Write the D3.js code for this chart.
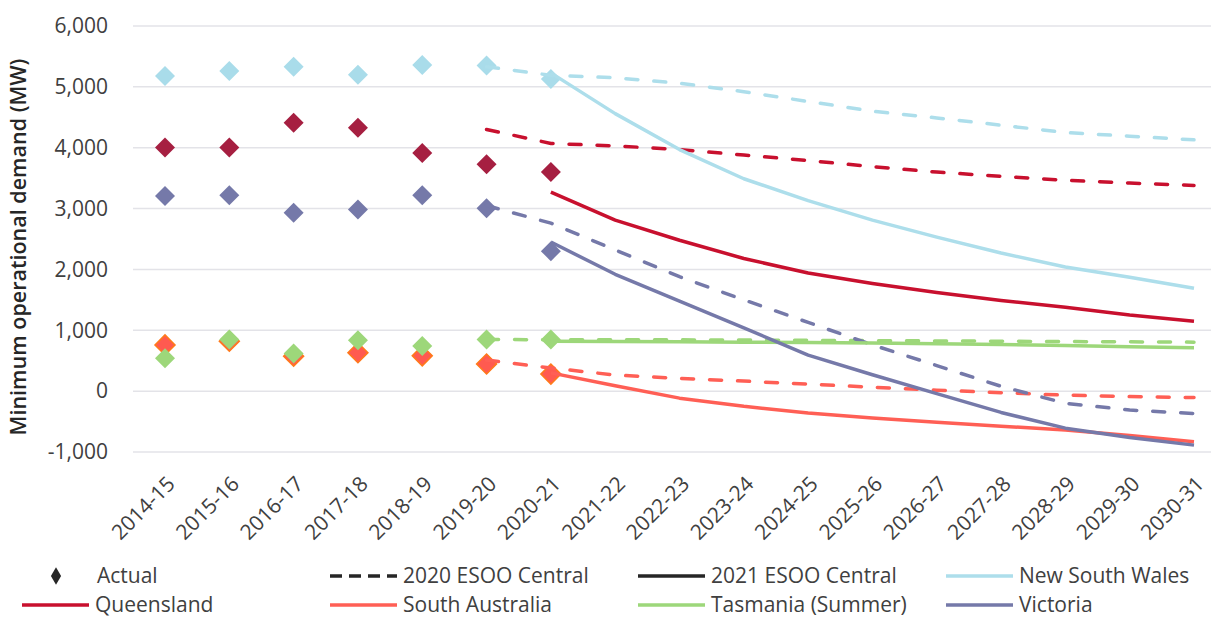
<!DOCTYPE html>
<html>
<head>
<meta charset="utf-8">
<script src="https://cdn.jsdelivr.net/npm/d3@7"></script>
<style>
  body { margin: 0; background: #fff; }
  svg { font-family: 'Open Sans', sans-serif; }
  .grid line { stroke: #e3e3e8; stroke-width: 1.5; }
  .tick-label { fill: #404040; font-size: 21px; }
  .legend text { fill: #404040; font-size: 21px; }
</style>
</head>
<body>
<div id="chart"></div>
<script>
var years = ['2014-15', '2015-16', '2016-17', '2017-18', '2018-19', '2019-20', '2020-21', '2021-22',
  '2022-23', '2023-24', '2024-25', '2025-26', '2026-27', '2027-28', '2028-29', '2029-30', '2030-31']
var yTicks = [-1000, 0, 1000, 2000, 3000, 4000, 5000, 6000]

// actuals: 2014-15 .. 2020-21
var actualNSW = [5180, 5260, 5330, 5200, 5360, 5350, 5130]
var actualQLD = [4005, 4005, 4410, 4330, 3915, 3730, 3600]
var actualSA = [760, 820, 575, 630, 580, 445, 280]
var actualTAS = [540, 848, 618, 838, 740, 848, 848]
var actualVIC = [3205, 3220, 2930, 2985, 3220, 3005, 2300]

// 2020 ESOO Central: 2019-20 .. 2030-31
var esoo20NSW = [5330, 5190, 5150, 5060, 4920, 4760, 4600, 4490, 4370, 4250, 4190, 4130]
var esoo20QLD = [4300, 4070, 4030, 3970, 3880, 3790, 3690, 3600, 3530, 3465, 3420, 3380]
var esoo20SA = [510, 380, 265, 210, 165, 115, 65, 16, -25, -66, -90, -105]
var esoo20TAS = [849, 845, 845, 843, 840, 835, 830, 825, 820, 815, 810, 805]
var esoo20VIC = [3050, 2760, 2320, 1880, 1500, 1130, 760, 420, 80, -200, -310, -367]

// 2021 ESOO Central: 2020-21 .. 2030-31
var esoo21NSW = [5230, 4560, 3970, 3490, 3130, 2810, 2530, 2270, 2040, 1870, 1690]
var esoo21QLD = [3270, 2810, 2480, 2180, 1940, 1770, 1620, 1490, 1380, 1250, 1150]
var esoo21SA = [300, 90, -115, -250, -360, -440, -510, -575, -640, -730, -833]
var esoo21TAS = [820, 815, 810, 805, 800, 790, 780, 765, 750, 730, 712]
var esoo21VIC = [2450, 1920, 1480, 1040, 591, 270, -40, -350, -608, -760, -887]

var regions = [
  { name: 'New South Wales', line: '#addeeb', dot: '#a9dcea', actual: actualNSW, e20: esoo20NSW, e21: esoo21NSW },
  { name: 'Queensland', line: '#c8102e', dot: '#a61f41', actual: actualQLD, e20: esoo20QLD, e21: esoo21QLD },
  { name: 'South Australia', line: '#ff5f55', dot: '#ff5a50', stroke: '#ff7a1a', actual: actualSA, e20: esoo20SA, e21: esoo21SA },
  { name: 'Tasmania (Summer)', line: '#9dd77a', dot: '#9dd77a', actual: actualTAS, e20: esoo20TAS, e21: esoo21TAS },
  { name: 'Victoria', line: '#7579a9', dot: '#7579a9', actual: actualVIC, e20: esoo20VIC, e21: esoo21VIC }
]

var width = 1211
var height = 619
var plotLeft = 133

var svg = d3.select('#chart').append('svg')
  .attr('width', width)
  .attr('height', height)

var x = d3.scalePoint()
  .domain(years)
  .range([165, 1194])
var y = d3.scaleLinear()
  .domain([-1000, 6000])
  .range([452, 26])

// gridlines
svg.append('g')
  .classed('grid', true)
  .selectAll('line')
  .data(yTicks)
  .enter().append('line')
  .attr('x1', plotLeft)
  .attr('x2', width)
  .attr('y1', function (d) { return y(d) })
  .attr('y2', function (d) { return y(d) })

// y axis labels
var fmt = d3.format(',')
svg.append('g')
  .selectAll('text')
  .data(yTicks)
  .enter().append('text')
  .classed('tick-label', true)
  .attr('x', 108)
  .attr('y', function (d) { return y(d) })
  .attr('dy', '0.35em')
  .attr('text-anchor', 'end')
  .text(function (d) { return d < 0 ? '-' + fmt(-d) : fmt(d) })

// x axis labels, slanted
svg.append('g')
  .selectAll('text')
  .data(years)
  .enter().append('text')
  .classed('tick-label', true)
  .attr('text-anchor', 'end')
  .attr('transform', function (d) { return 'translate(' + (x(d) + 6) + ',480) rotate(-45)' })
  .attr('dy', '0.35em')
  .text(function (d) { return d })

svg.append('text')
  .attr('transform', 'translate(26,247) rotate(-90)')
  .attr('text-anchor', 'middle')
  .style('font-size', '21.5px')
  .style('font-weight', 600)
  .attr('fill', '#262626')
  .text('Minimum operational demand (MW)')

var diamond = d3.symbol().type(d3.symbolSquare).size(200)

// actual diamonds
regions.forEach(function (r) {
  svg.append('g')
    .selectAll('path')
    .data(r.actual)
    .enter().append('path')
    .attr('d', diamond)
    .attr('transform', function (d, i) { return 'translate(' + x(years[i]) + ',' + y(d) + ') rotate(45)' })
    .attr('fill', r.dot)
    .attr('stroke', r.stroke || 'none')
    .attr('stroke-width', 1.5)
})

var line = d3.line()
  .x(function (d) { return x(d.year) })
  .y(function (d) { return y(d.value) })

function series (values, startYear) {
  var start = years.indexOf(startYear)
  return values.map(function (v, i) { return { year: years[start + i], value: v } })
}

// 2020 ESOO dashed
regions.forEach(function (r) {
  svg.append('path')
    .datum(series(r.e20, '2019-20'))
    .attr('d', line)
    .attr('fill', 'none')
    .attr('stroke', r.line)
    .attr('stroke-width', 3.5)
    .attr('stroke-linecap', 'round')
    .attr('stroke-dasharray', '12 16')
})

// 2021 ESOO solid
regions.forEach(function (r) {
  svg.append('path')
    .datum(series(r.e21, '2020-21'))
    .attr('d', line)
    .attr('fill', 'none')
    .attr('stroke', r.line)
    .attr('stroke-width', 3.5)
    .attr('stroke-linejoin', 'round')
})

// legend
var legendItems = [
  { label: 'Actual', type: 'diamond', color: '#262626' },
  { label: '2020 ESOO Central', type: 'dash', color: '#262626' },
  { label: '2021 ESOO Central', type: 'line', color: '#262626' }
].concat(regions.map(function (r) { return { label: r.name, type: 'line', color: r.line } }))

var legend = svg.append('g').classed('legend', true)
var item = legend.selectAll('g')
  .data(legendItems)
  .enter().append('g')
  .attr('transform', function (d, i) { return 'translate(' + (22 + (i % 4) * 308) + ',' + (576 + Math.floor(i / 4) * 29) + ')' })

item.each(function (d) {
  var g = d3.select(this)
  if (d.type === 'diamond') {
    g.append('path')
      .attr('d', d3.symbol().type(d3.symbolDiamond).size(90))
      .attr('transform', 'translate(34,0)')
      .attr('fill', d.color)
  } else {
    g.append('line')
      .attr('x1', 0).attr('x2', 67)
      .attr('stroke', d.color)
      .attr('stroke-width', 3.5)
      .attr('stroke-dasharray', d.type === 'dash' ? '12 7' : null)
  }
  g.append('text')
    .attr('x', d.type === 'diamond' ? 75 : 73)
    .attr('dy', '0.35em')
    .text(d.label)
})
</script>
</body>
</html>
